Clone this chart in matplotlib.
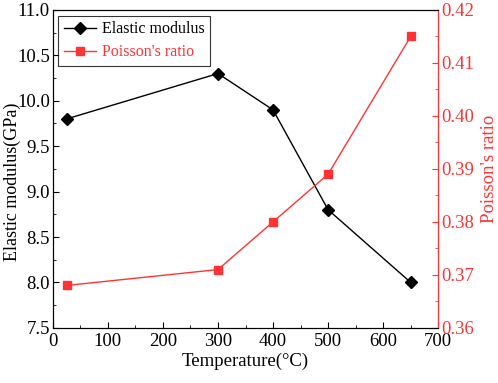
import matplotlib
matplotlib.use('Agg')
import matplotlib.pyplot as plt
from matplotlib.ticker import MultipleLocator

temperature = [25, 300, 400, 500, 650]
elastic_modulus = [9.8, 10.3, 9.9, 8.8, 8.0]
poisson_ratio = [0.368, 0.371, 0.380, 0.389, 0.415]

plt.rcParams['font.family'] = ['Liberation Serif', 'DejaVu Serif']
red = '#ff3333'
fs = 13.5

fig = plt.figure(figsize=(4.98, 3.83), dpi=100)
ax = fig.add_axes([0.106, 0.144, 0.774, 0.83])
ax2 = ax.twinx()

l1, = ax.plot(temperature, elastic_modulus, color='black', lw=1, marker='D', ms=6, label='Elastic modulus')
l2, = ax2.plot(temperature, poisson_ratio, color=red, lw=1, marker='s', ms=6, label="Poisson's ratio")

ax.set_xlim(0, 700)
ax.set_ylim(7.5, 11.0)
ax2.set_ylim(0.36, 0.42)
ax.xaxis.set_major_locator(MultipleLocator(100))
ax.xaxis.set_minor_locator(MultipleLocator(50))
ax.yaxis.set_major_locator(MultipleLocator(0.5))
ax.yaxis.set_minor_locator(MultipleLocator(0.25))
ax2.yaxis.set_major_locator(MultipleLocator(0.01))
ax2.yaxis.set_minor_locator(MultipleLocator(0.005))
ax.yaxis.set_major_formatter(plt.FormatStrFormatter('%.1f'))
ax2.yaxis.set_major_formatter(plt.FormatStrFormatter('%.2f'))

ax.tick_params(axis='both', which='both', direction='in', labelsize=fs, top=False, right=False)
ax.tick_params(which='major', length=4)
ax.tick_params(which='minor', length=2)
ax.tick_params(axis='y', pad=2)
ax2.tick_params(axis='y', which='both', direction='in', labelsize=fs, colors=red, pad=2)
ax2.tick_params(which='major', length=4)
ax2.tick_params(which='minor', length=2)
ax2.spines['right'].set_color(red)

ax.set_xlabel('Temperature(\u00b0C)', fontsize=fs, labelpad=2)
ax.set_ylabel('Elastic modulus(GPa)', fontsize=13)
ax.yaxis.set_label_coords(-0.083, 0.46)
ax2.set_ylabel("Poisson's ratio", fontsize=fs, color=red)
ax2.yaxis.set_label_coords(1.112, 0.5)

leg = ax.legend(handles=[l1, l2], loc='upper left', fontsize=11.5, frameon=True, fancybox=False,
                edgecolor='black', borderaxespad=0.35, handlelength=2.0, handletextpad=0.35,
                borderpad=0.35, labelspacing=0.45)
leg.get_frame().set_linewidth(0.8)
leg.get_texts()[1].set_color(red)

fig.savefig('out.png', dpi=100)
